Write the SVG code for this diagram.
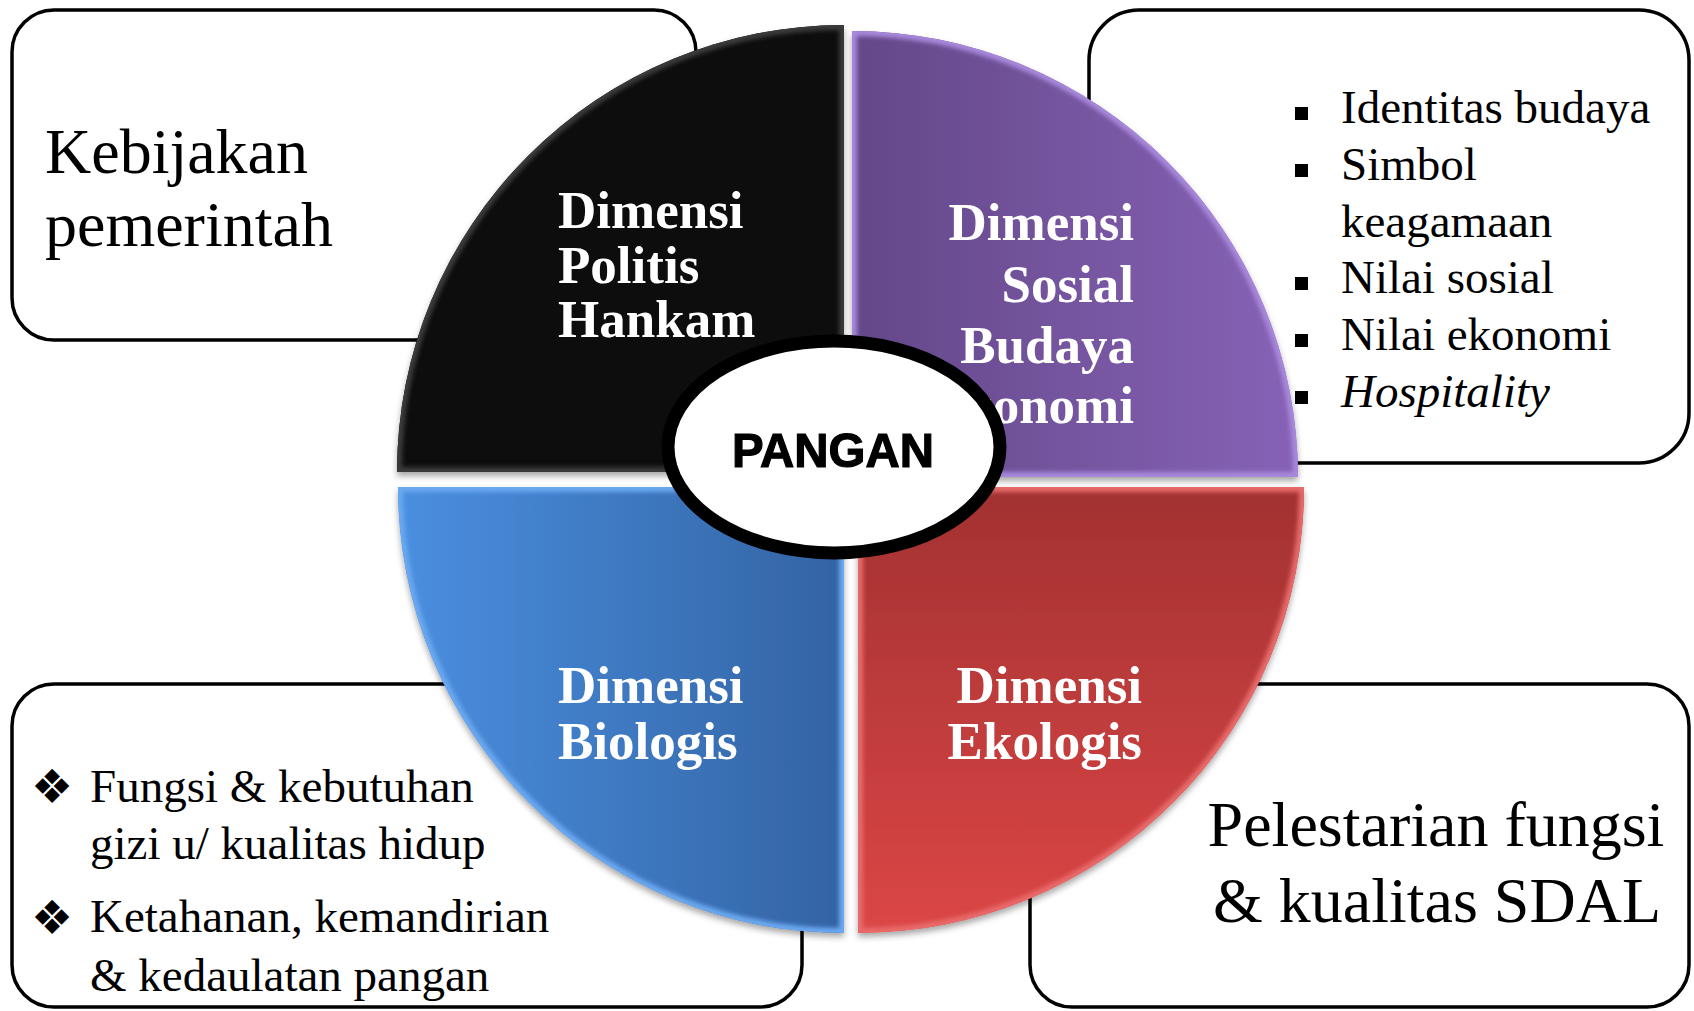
<svg xmlns="http://www.w3.org/2000/svg" width="1694" height="1011" viewBox="0 0 1694 1011">
<style>
.box{fill:#fff;stroke:#000;stroke-width:3.5}
.serif{font-family:"Liberation Serif","Times New Roman",serif;fill:#000}
.big{font-size:64px}
.list{font-size:47px}
.dim{font-family:"Liberation Serif","Times New Roman",serif;font-weight:bold;font-size:53px;fill:#fff}
.pangan{font-family:"Liberation Sans",Arial,sans-serif;font-weight:bold;font-size:49px;fill:#000;stroke:#000;stroke-width:1.2}
.dia{font-family:"DejaVu Sans",sans-serif;font-size:47px;fill:#000}
.bevel{fill:none;stroke-width:10}
</style>
<defs>
<filter id="shadow" x="-10%" y="-10%" width="120%" height="125%">
<feDropShadow dx="0" dy="4" stdDeviation="3" flood-color="#000" flood-opacity="0.35"/>
</filter>
<filter id="soft"><feGaussianBlur stdDeviation="2"/></filter>
<linearGradient id="gPurple" x1="0" y1="0" x2="1" y2="0">
<stop offset="0" stop-color="#634889"/>
<stop offset="1" stop-color="#8762b6"/>
</linearGradient>
<linearGradient id="gBlue" x1="0" y1="0" x2="1" y2="0">
<stop offset="0" stop-color="#4a8fe0"/>
<stop offset="1" stop-color="#3363a3"/>
</linearGradient>
<linearGradient id="gRed" x1="0" y1="0" x2="0" y2="1">
<stop offset="0" stop-color="#a23131"/>
<stop offset="1" stop-color="#dc4646"/>
</linearGradient>
<path id="qBlack" d="M844,472 L397,472 A447,447 0 0 1 844,25 Z"/>
<path id="qPurple" d="M852,477 L852,31 A446,446 0 0 1 1298,477 Z"/>
<path id="qBlue" d="M844,487 L844,933 A446,446 0 0 1 398,487 Z"/>
<path id="qRed" d="M858,487 L1304,487 A446,446 0 0 1 858,933 Z"/>
<clipPath id="cBlack"><use href="#qBlack"/></clipPath>
<clipPath id="cPurple"><use href="#qPurple"/></clipPath>
<clipPath id="cBlue"><use href="#qBlue"/></clipPath>
<clipPath id="cRed"><use href="#qRed"/></clipPath>
</defs>

<rect width="1694" height="1011" fill="#fff"/>

<g id="box-kebijakan">
<rect class="box" x="12" y="10" width="684" height="330" rx="42"/>
<text class="serif big" x="45" y="173">Kebijakan</text>
<text class="serif big" x="45" y="246">pemerintah</text>
</g>

<g id="box-sosial">
<rect class="box" x="1089" y="10" width="600" height="453" rx="50"/>
<rect x="1295" y="107" width="13" height="13"/>
<rect x="1295" y="164" width="13" height="13"/>
<rect x="1295" y="277" width="13" height="13"/>
<rect x="1295" y="334" width="13" height="13"/>
<rect x="1295" y="391" width="13" height="13"/>
<text class="serif list" x="1341" y="123">Identitas budaya</text>
<text class="serif list" x="1341" y="180">Simbol</text>
<text class="serif list" x="1341" y="237">keagamaan</text>
<text class="serif list" x="1341" y="293">Nilai sosial</text>
<text class="serif list" x="1341" y="350">Nilai ekonomi</text>
<text class="serif list" x="1341" y="407" font-style="italic">Hospitality</text>
</g>

<g id="box-biologis">
<rect class="box" x="12" y="684" width="790" height="323" rx="42"/>
<text class="dia" x="52" y="803" text-anchor="middle">❖</text>
<text class="dia" x="52" y="934" text-anchor="middle">❖</text>
<text class="serif list" x="90" y="802">Fungsi &amp; kebutuhan</text>
<text class="serif list" x="90" y="859">gizi u/ kualitas hidup</text>
<text class="serif list" x="90" y="932">Ketahanan, kemandirian</text>
<text class="serif list" x="90" y="991">&amp; kedaulatan pangan</text>
</g>

<g id="box-ekologis">
<rect class="box" x="1030" y="684" width="659" height="323" rx="42"/>
<text class="serif big" x="1436" y="846" text-anchor="middle">Pelestarian fungsi</text>
<text class="serif big" x="1437" y="922" text-anchor="middle">&amp; kualitas SDAL</text>
</g>

<g id="q-politis">
<use href="#qBlack" fill="#070707" filter="url(#shadow)"/>
<g clip-path="url(#cBlack)"><use href="#qBlack" class="bevel" stroke="#3a3a3a" filter="url(#soft)"/></g>
<text class="dim" x="558" y="228">Dimensi</text>
<text class="dim" x="558" y="283">Politis</text>
<text class="dim" x="558" y="337">Hankam</text>
</g>

<g id="q-sosial">
<use href="#qPurple" fill="url(#gPurple)" filter="url(#shadow)"/>
<g clip-path="url(#cPurple)"><use href="#qPurple" class="bevel" stroke="#a888dc" filter="url(#soft)"/></g>
<text class="dim" x="1134" y="240" text-anchor="end">Dimensi</text>
<text class="dim" x="1134" y="302" text-anchor="end">Sosial</text>
<text class="dim" x="1134" y="363" text-anchor="end">Budaya</text>
<text class="dim" x="1134" y="423" text-anchor="end">Ekonomi</text>
</g>

<g id="q-biologis">
<use href="#qBlue" fill="url(#gBlue)" filter="url(#shadow)"/>
<g clip-path="url(#cBlue)"><use href="#qBlue" class="bevel" stroke="#6aa8f0" filter="url(#soft)"/></g>
<text class="dim" x="558" y="703">Dimensi</text>
<text class="dim" x="558" y="759">Biologis</text>
</g>

<g id="q-ekologis">
<use href="#qRed" fill="url(#gRed)" filter="url(#shadow)"/>
<g clip-path="url(#cRed)"><use href="#qRed" class="bevel" stroke="#e86a6a" filter="url(#soft)"/></g>
<text class="dim" x="1142" y="703" text-anchor="end">Dimensi</text>
<text class="dim" x="1142" y="759" text-anchor="end">Ekologis</text>
</g>

<g id="pangan">
<ellipse cx="834" cy="447" rx="166" ry="106" fill="#fff" stroke="#000" stroke-width="13"/>
<text class="pangan" x="833" y="467" text-anchor="middle" textLength="202" lengthAdjust="spacingAndGlyphs">PANGAN</text>
</g>

<g id="connectors"/>
</svg>
